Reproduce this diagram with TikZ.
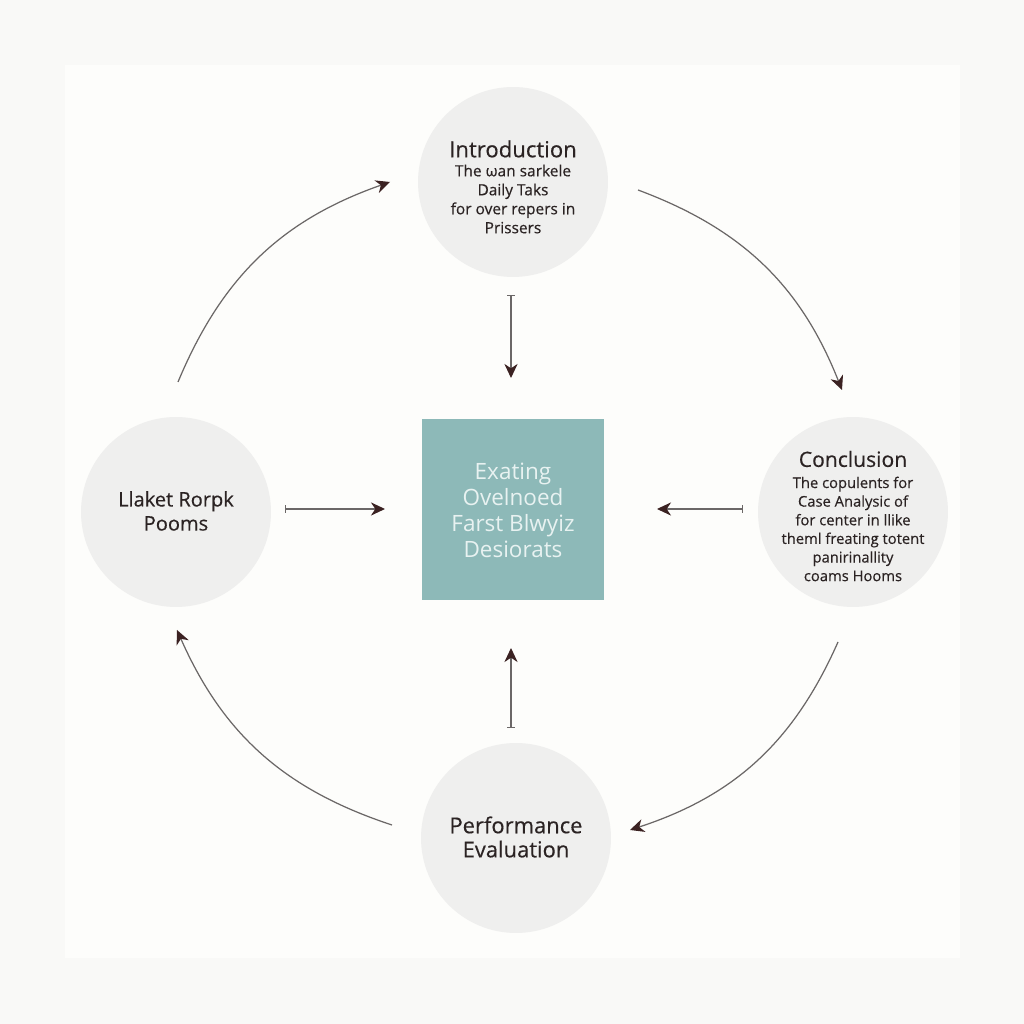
\documentclass[tikz,border=0pt]{standalone}
\usepackage{fontspec}
\setmainfont{Open Sans}
\newfontfamily\medium[FakeBold=0.35]{Open Sans}
\usetikzlibrary{arrows.meta,positioning}
\definecolor{pagec}{HTML}{F9F9F7}
\definecolor{panelc}{HTML}{FDFDFB}
\definecolor{phasec}{HTML}{EFEFEE}
\definecolor{corec}{HTML}{8DB9B8}
\definecolor{coretext}{HTML}{E8F2F1}
\definecolor{inkc}{HTML}{2B2323}
\definecolor{linec}{HTML}{6B6767}
\definecolor{headc}{HTML}{3B2222}
\tikzset{
  phase/.style={circle, fill=phasec, inner sep=0pt, minimum size=3.8cm},
  core/.style={rectangle, fill=corec, inner sep=0pt, minimum size=3.64cm},
  ttl/.style={text=inkc, font=\medium\fontsize{12.6}{14}\selectfont},
  body/.style={text=inkc, align=center, font=\medium\fontsize{8.8}{10.8}\selectfont},
  flow/.style={draw=linec, line width=0.7pt, -{Stealth[length=8pt, width=7.5pt, inset=2.5pt, color=headc]}},
  link/.style={draw=linec, line width=0.7pt, {Bar[width=4pt]}-{Stealth[length=8pt, width=7.5pt, inset=2.5pt, color=headc]}},
}

\begin{document}
\begin{tikzpicture}[x=0.02cm, y=0.02cm]
  % page and panel
  \fill[pagec] (0,0) rectangle (1024,1024);
  \useasboundingbox (0,0) rectangle (1024,1024);
  \fill[panelc] (65,66) rectangle (960,959);
  % phases
  \node[phase] (intro) at (513,842) {};
  \node[phase] (lake) at (176,512) {};
  \node[phase] (conc) at (853,512) {};
  \node[phase] (perf) at (516,186) {};
  \node[core] (centre) at (513,514.5) {};
  % texts
  \node[ttl] (introT) at (513,875) {Introduction};
  \node[body] (introB) at (513,825) {The ωan sarkele\\Daily Taks\\for over repers in\\Prissers};
  \node[ttl, font=\medium\fontsize{12}{14}\selectfont] (concT) at (853,565) {Conclusion};
  \node[body, font=\medium\fontsize{8.4}{10.6}\selectfont] (concB) at (853,495) {The copulents for\\Case Analysic of\\for center in llike\\theml freating totent\\panirinallity\\coams Hooms};
  \node[body, font=\medium\fontsize{11.4}{13.7}\selectfont] (lakeT) at (176,513) {Llaket Rorpk\\Pooms};
  \node[align=center, text=coretext, font=\fontsize{12.8}{14.8}\selectfont] (centreT) at (513,514) {Exating\\Ovelnoed\\Farst Blwyiz\\Desiorats};
  \node[body, font=\medium\fontsize{12.5}{13.7}\selectfont] (perfT) at (516,187) {Performance\\Evaluation};
  % cycle arcs
  \coordinate (tlS) at (178,642); \coordinate (tlE) at (390,842);
  \coordinate (trS) at (638,834); \coordinate (trE) at (842,634);
  \coordinate (brS) at (838,382); \coordinate (brE) at (630,194);
  \coordinate (blS) at (392,199); \coordinate (blE) at (177,394);
  \draw[flow] (tlS) to[bend left=24] (tlE);
  \draw[flow] (trS) to[bend left=24] (trE);
  \draw[flow] (brS) to[bend left=24] (brE);
  \draw[flow] (blS) to[bend left=24] (blE);
  % spokes to the centre
  \coordinate (dnS) at (511,729); \coordinate (dnE) at (511,646);
  \coordinate (ltS) at (285,515); \coordinate (ltE) at (385,515);
  \coordinate (rtS) at (743,515); \coordinate (rtE) at (657,515);
  \coordinate (upS) at (511,296); \coordinate (upE) at (511,376);
  \foreach \s/\e in {dnS/dnE, ltS/ltE, rtS/rtE, upS/upE}
    \draw[link] (\s) -- (\e);
\end{tikzpicture}
\end{document}
